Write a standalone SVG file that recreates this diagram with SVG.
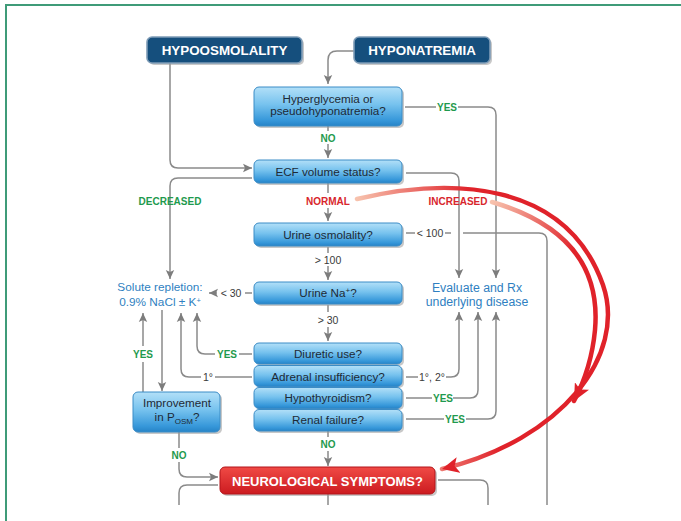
<svg xmlns="http://www.w3.org/2000/svg" width="681" height="521" viewBox="0 0 681 521">
<defs>
<linearGradient id="gBlue" x1="0" y1="0" x2="0" y2="1">
<stop offset="0" stop-color="#b3e0f8"/>
<stop offset="0.45" stop-color="#76c2ee"/>
<stop offset="0.85" stop-color="#3798da"/>
<stop offset="1" stop-color="#2683c7"/>
</linearGradient>
<linearGradient id="gRed" x1="0" y1="0" x2="0" y2="1">
<stop offset="0" stop-color="#f04a45"/>
<stop offset="1" stop-color="#cc1b20"/>
</linearGradient>
<linearGradient id="gArc1" gradientUnits="userSpaceOnUse" x1="357" y1="199" x2="470" y2="186">
<stop offset="0" stop-color="#f7c2ad"/>
<stop offset="1" stop-color="#e0222a"/>
</linearGradient>
<linearGradient id="gArc2" gradientUnits="userSpaceOnUse" x1="492" y1="202" x2="575" y2="250">
<stop offset="0" stop-color="#f7c2ad"/>
<stop offset="1" stop-color="#e0222a"/>
</linearGradient>
<marker id="ah" markerUnits="userSpaceOnUse" markerWidth="10" markerHeight="10" viewBox="0 0 10 10" refX="9" refY="5" orient="auto">
<path d="M0,0.8 L9,5 L0,9.2 L2,5 Z" fill="#7d7d7d"/>
</marker>
<marker id="ahr" markerUnits="userSpaceOnUse" markerWidth="18" markerHeight="16" viewBox="0 0 18 16" refX="17" refY="8" orient="auto">
<path d="M0,0 L17,8 L0,16 L4,8 Z" fill="#e0222a"/>
</marker>
<style>
.ln{fill:none;stroke:#8a8a8a;stroke-width:1.5}
.arc{fill:none;stroke-width:4.5;stroke-linecap:round}
.bb{fill:url(#gBlue);stroke:#3b8cc6;stroke-width:1}
.sh{fill:#9a9a9a;opacity:0.55}
.hd{fill:#154f7d;stroke:#7e9cb7;stroke-width:1.6}
.ht{font-family:"Liberation Sans",Arial,sans-serif;font-weight:bold;font-size:13.4px;fill:#ffffff;text-anchor:middle}
.bt{font-family:"Liberation Sans",Arial,sans-serif;font-size:11.7px;fill:#1e2a36;text-anchor:middle}
.tt{font-family:"Liberation Sans",Arial,sans-serif;font-size:12.3px;fill:#2f7fc1;text-anchor:middle}
.lg{font-family:"Liberation Sans",Arial,sans-serif;font-weight:bold;font-size:10px;fill:#1f9a4e;text-anchor:middle}
.lr{font-family:"Liberation Sans",Arial,sans-serif;font-weight:bold;font-size:10px;fill:#d8262c;text-anchor:middle}
.lk{font-family:"Liberation Sans",Arial,sans-serif;font-size:10.5px;fill:#3a3a3a;text-anchor:middle}
</style>
</defs>
<rect width="681" height="521" fill="#ffffff"/>
<path d="M6,521 V5 H681" fill="none" stroke="#3f9b78" stroke-width="2"/>

<g id="connectors">
<path class="ln" d="M354,51 H337 Q328,51 328,60 V84" marker-end="url(#ah)"/>
<path class="ln" d="M170,63 V160 Q170,168 178,168 H252" marker-end="url(#ah)"/>
<path class="ln" d="M328,126 V131"/>
<path class="ln" d="M328,144 V158" marker-end="url(#ah)"/>
<path class="ln" d="M405,107 H436"/>
<path class="ln" d="M458,107 H488 Q496,107 496,115 V278" marker-end="url(#ah)"/>
<path class="ln" d="M406,173 H451 Q459,173 459,181 V278" marker-end="url(#ah)"/>
<path class="ln" d="M252,178 H178 Q170,178 170,186 V279" marker-end="url(#ah)"/>
<path class="ln" d="M328,183 V193"/>
<path class="ln" d="M328,208 V221" marker-end="url(#ah)"/>
<path class="ln" d="M406,233 H415"/>
<path class="ln" d="M445,233 H451"/>
<path class="ln" d="M463,233 H539 Q547,233 547,241 V505"/>
<path class="ln" d="M328,247 V253"/>
<path class="ln" d="M328,266 V280" marker-end="url(#ah)"/>
<path class="ln" d="M252,293 H245"/>
<path class="ln" d="M217,293 H209" marker-end="url(#ah)"/>
<path class="ln" d="M328,305 V312"/>
<path class="ln" d="M328,327 V341" marker-end="url(#ah)"/>
<path class="ln" d="M252,354 H239"/>
<path class="ln" d="M215,354 H205 Q197,354 197,346 V313" marker-end="url(#ah)"/>
<path class="ln" d="M252,377 H215"/>
<path class="ln" d="M201,377 H189 Q181,377 181,369 V313" marker-end="url(#ah)"/>
<path class="ln" d="M143,392 V362"/>
<path class="ln" d="M143,346 V313" marker-end="url(#ah)"/>
<path class="ln" d="M162,310 V391" marker-end="url(#ah)"/>
<path class="ln" d="M179,432 V448"/>
<path class="ln" d="M179,462 V469 Q179,477 187,477 H218" marker-end="url(#ah)"/>
<path class="ln" d="M328,431 V437"/>
<path class="ln" d="M328,451 V466" marker-end="url(#ah)"/>
<path class="ln" d="M218,485 H187 Q179,485 179,493 V505"/>
<path class="ln" d="M328,494 V505"/>
<path class="ln" d="M438,480 H480 Q488,480 488,488 V505"/>
<path class="ln" d="M406,377 H418"/>
<path class="ln" d="M446,377 H451 Q459,377 459,369 V312" marker-end="url(#ah)"/>
<path class="ln" d="M406,398 H432"/>
<path class="ln" d="M453,398 H470 Q478,398 478,390 V312" marker-end="url(#ah)"/>
<path class="ln" d="M406,419 H444"/>
<path class="ln" d="M466,419 H488 Q496,419 496,411 V312" marker-end="url(#ah)"/>
<path class="arc" stroke="url(#gArc1)" d="M357,199 C450,177 566,180 603,285 C627,355 562,440 442,469" marker-end="url(#ahr)"/>
<path class="arc" stroke="url(#gArc2)" d="M492,202 C560,222 601,262 595,330 C592,362 583,384 574,401" marker-end="url(#ahr)"/>
<text class="lg" x="328" y="141.6">NO</text>
<text class="lg" x="447" y="110.6">YES</text>
<text class="lg" x="170" y="204.6">DECREASED</text>
<text class="lr" x="328" y="204.6">NORMAL</text>
<text class="lr" x="458" y="204.6">INCREASED</text>
<text class="lk" x="430" y="236.8">&lt; 100</text>
<text class="lk" x="328" y="263.8">&gt; 100</text>
<text class="lk" x="231" y="296.8">&lt; 30</text>
<text class="lk" x="328" y="323.8">&gt; 30</text>
<text class="lg" x="227" y="357.6">YES</text>
<text class="lk" x="208" y="380.8">1°</text>
<text class="lg" x="143" y="357.6">YES</text>
<text class="lg" x="179" y="458.6">NO</text>
<text class="lg" x="328" y="447.6">NO</text>
<text class="lk" x="432" y="380.8">1°, 2°</text>
<text class="lg" x="443" y="401.6">YES</text>
<text class="lg" x="455" y="422.6">YES</text>
</g>

<g id="hypoosmolality">
<rect class="sh" x="149" y="39" width="155" height="26" rx="5"/>
<rect class="hd" x="147" y="37" width="155" height="26" rx="5"/>
<text class="ht" x="224.5" y="54.8">HYPOOSMOLALITY</text>
</g>
<g id="hyponatremia">
<rect class="sh" x="356" y="39" width="136" height="26" rx="5"/>
<rect class="hd" x="354" y="37" width="136" height="26" rx="5"/>
<text class="ht" x="422" y="54.8">HYPONATREMIA</text>
</g>
<g id="hyperglycemia">
<rect class="sh" x="256" y="89" width="148" height="39" rx="5"/>
<rect class="bb" x="254" y="87" width="148" height="39" rx="5"/>
<text class="bt" x="328" y="103.2">Hyperglycemia or</text>
<text class="bt" x="328" y="115.4">pseudohyponatremia?</text>
</g>
<g id="ecf">
<rect class="sh" x="256" y="162" width="148" height="23" rx="5"/>
<rect class="bb" x="254" y="160" width="148" height="23" rx="5"/>
<text class="bt" x="328" y="176">ECF volume status?</text>
</g>
<g id="urine-osm">
<rect class="sh" x="256" y="225" width="148" height="23" rx="5"/>
<rect class="bb" x="254" y="223" width="148" height="23" rx="5"/>
<text class="bt" x="328" y="238.8">Urine osmolality?</text>
</g>
<g id="urine-na">
<rect class="sh" x="256" y="284" width="148" height="22" rx="5"/>
<rect class="bb" x="254" y="282" width="148" height="22" rx="5"/>
<text class="bt" x="328" y="297.4">Urine Na<tspan font-size="8" dy="-4">+</tspan><tspan dy="4">?</tspan></text>
</g>
<g id="diuretic">
<rect class="sh" x="256" y="345" width="148" height="21" rx="5"/>
<rect class="bb" x="254" y="343" width="148" height="21" rx="5"/>
<text class="bt" x="328" y="358.2">Diuretic use?</text>
</g>
<g id="adrenal">
<rect class="sh" x="256" y="367" width="148" height="21" rx="5"/>
<rect class="bb" x="254" y="365.5" width="148" height="21" rx="5"/>
<text class="bt" x="328" y="380.6">Adrenal insufficiency?</text>
</g>
<g id="hypothyroidism">
<rect class="sh" x="256" y="389" width="148" height="21" rx="5"/>
<rect class="bb" x="254" y="387.5" width="148" height="21" rx="5"/>
<text class="bt" x="328" y="402.2">Hypothyroidism?</text>
</g>
<g id="renal">
<rect class="sh" x="256" y="411" width="148" height="22" rx="5"/>
<rect class="bb" x="254" y="409.5" width="148" height="21.5" rx="5"/>
<text class="bt" x="328" y="424">Renal failure?</text>
</g>
<g id="improvement">
<rect class="sh" x="135" y="394" width="87" height="40" rx="5"/>
<rect class="bb" x="133" y="392" width="87" height="40" rx="5"/>
<text class="bt" x="177" y="407.4">Improvement</text>
<text class="bt" x="177" y="421">in P<tspan font-size="8" dy="3">OSM</tspan><tspan dy="-3">?</tspan></text>
</g>
<g id="neuro">
<rect class="sh" x="222" y="469" width="215" height="27" rx="5"/>
<rect x="220" y="467" width="215" height="27" rx="5" fill="url(#gRed)" stroke="#b3151a" stroke-width="1"/>
<text class="ht" style="font-size:13px" x="327.5" y="485.7">NEUROLOGICAL SYMPTOMS?</text>
</g>
<g id="solute">
<text class="tt" style="font-size:11.8px" x="160" y="291.4">Solute repletion:</text>
<text class="tt" style="font-size:11.8px" x="160" y="305.8">0.9% NaCl ± K<tspan font-size="7.5" dy="-3">+</tspan></text>
</g>
<g id="evaluate">
<text class="tt" x="477" y="291.6">Evaluate and Rx</text>
<text class="tt" x="477" y="305.6">underlying disease</text>
</g>
</svg>
